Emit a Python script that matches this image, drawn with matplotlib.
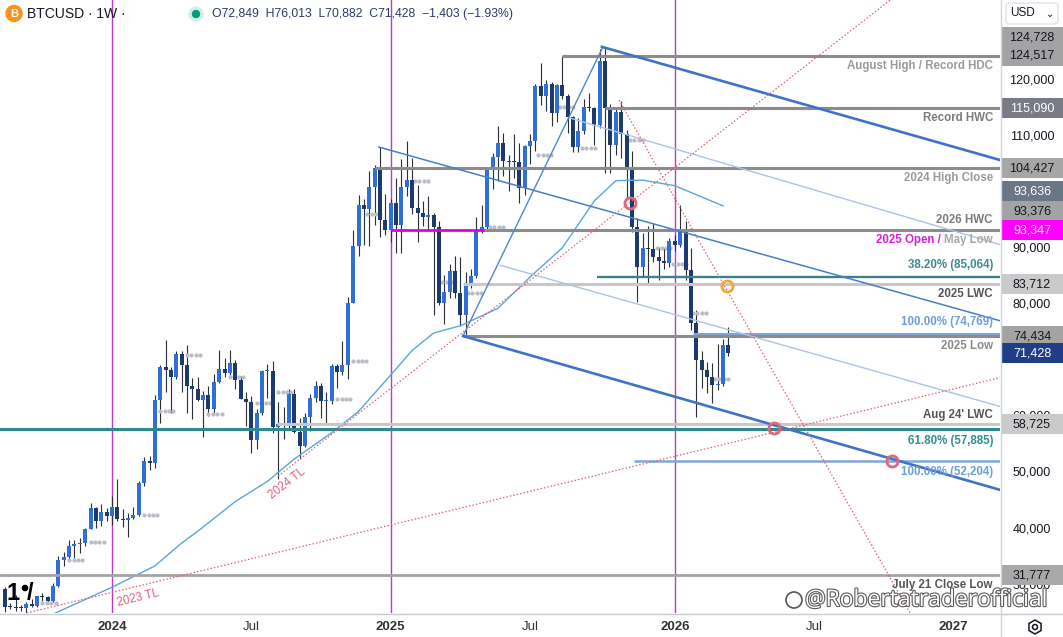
import matplotlib
matplotlib.use("Agg")
import matplotlib.pyplot as plt
import matplotlib.patheffects as pe
from matplotlib.patches import Rectangle, Circle, RegularPolygon, FancyBboxPatch

plt.rcParams['font.family'] = ['Liberation Sans', 'DejaVu Sans']

W, H = 1063, 637

# weekly candles, bar 0 = week of 1 Jan 2024
bar_index = list(range(-20, 116))
opens = [29300, 26100, 26000, 25840, 25830, 26530, 26250, 27970, 27920, 27150,
         29900, 34500, 35000, 37050, 37370, 37450, 39970, 43780, 41370, 43000,
         42280, 43950, 41700, 41580, 42030, 42580, 48300, 52140, 51730, 63110,
         68950, 68390, 67210, 71300, 69360, 65600, 64990, 63120, 63890, 61480,
         66270, 68520, 67770, 69650, 66650, 63220, 62680, 55870, 60800, 68160,
         68260, 58160, 58725, 58970, 64160, 57300, 54870, 60000, 63340, 65600,
         62820, 62870, 69030, 68000, 69350, 80400, 90500, 97900, 97200, 101100,
         104427, 95100, 93347, 98150, 94300, 101100, 102400, 97300, 96400, 95800,
         96100, 94000, 80300, 82400, 86000, 82100, 78200, 83600, 85100, 93400,
         94000, 104100, 106400, 109000, 105700, 105600, 105500, 100900, 108400, 109200,
         119100, 117300, 119400, 114200, 119300, 117400, 113500, 108300, 111100, 115300,
         115200, 112200, 123500, 115090, 108600, 114500, 110500, 104600, 94000, 86700,
         90200, 90000, 88600, 87800, 87500, 91500, 90700, 93376, 86250, 76700,
         70200, 68400, 67200, 65700, 65900, 72849]
highs = [29680, 26800, 28140, 26400, 27000, 27450, 28000, 28580, 27950, 30400,
         35200, 35980, 37970, 37980, 38420, 40250, 44700, 44000, 44400, 43800,
         45900, 49000, 43580, 42800, 43850, 48500, 52820, 52980, 64000, 69200,
         73800, 68900, 71770, 71700, 72800, 66900, 67200, 64730, 65500, 67700,
         71950, 70600, 71990, 70200, 67300, 64500, 63800, 61400, 68380, 69400,
         70000, 62750, 61800, 65000, 64960, 59800, 60650, 64130, 66500, 66000,
         64470, 69450, 69500, 73600, 81500, 93450, 99600, 98900, 104000, 105000,
         108300, 99900, 99000, 102700, 106000, 109300, 106300, 101500, 98600, 99500,
         96500, 95000, 85300, 87400, 88800, 88500, 85900, 86400, 95700, 97900,
         104300, 107100, 111900, 110700, 106800, 110500, 108900, 108500, 110500, 119500,
         123200, 120200, 119800, 119400, 124517, 117600, 113800, 113400, 116700, 117900,
         115400, 125700, 126000, 115900, 115400, 116400, 111200, 107500, 95500, 92900,
         94100, 94600, 90400, 90100, 91900, 92500, 97900, 95000, 90100, 79100,
         71700, 69900, 69700, 73000, 74000, 76013]
lows = [25200, 25800, 25350, 25400, 24900, 26000, 26000, 27200, 26550, 26950,
        29700, 33400, 34500, 34800, 35650, 36900, 39970, 40200, 40550, 41450,
        40750, 41500, 40300, 38550, 41830, 42260, 47700, 50540, 50900, 59000,
        64550, 60800, 66800, 64500, 60660, 59600, 62800, 56500, 60180, 60640,
        66080, 67100, 67500, 65050, 63200, 58400, 53500, 54260, 60400, 63430,
        57200, 49000, 56100, 57800, 57200, 52550, 54580, 57500, 62700, 59830,
        58900, 62400, 65100, 67450, 66800, 80300, 88800, 90800, 90500, 94200,
        92200, 92500, 91300, 89300, 89300, 99500, 96200, 91200, 94100, 93300,
        78200, 80000, 76600, 81200, 81300, 76200, 74434, 83100, 84800, 92800,
        93400, 100800, 102100, 103100, 100400, 102700, 98200, 99600, 105200, 107500,
        115800, 114700, 112000, 112600, 116800, 110700, 107300, 107300, 110600, 114700,
        108600, 111600, 103600, 103600, 106700, 106300, 98900, 93000, 80500, 85000,
        83900, 87600, 84500, 86500, 86800, 89600, 90300, 84500, 75500, 60060,
        65100, 64200, 62500, 64800, 65600, 70882]
closes = [26100, 26000, 25840, 25830, 26530, 26250, 27970, 27920, 27150, 29900,
          34500, 35000, 37050, 37370, 37450, 39970, 43780, 41370, 43000, 42280,
          43950, 41700, 41580, 42030, 42580, 48300, 52140, 51730, 63110, 68950,
          68390, 67210, 71300, 69360, 65600, 64990, 63120, 63890, 61480, 66270,
          68520, 67770, 69650, 66650, 63220, 62680, 55870, 60800, 68160, 68260,
          58160, 58725, 58970, 64160, 57300, 54870, 60000, 63340, 65600, 62820,
          62870, 69030, 68000, 69350, 80400, 90500, 97900, 97200, 101100, 104427,
          95100, 93347, 98150, 94300, 101100, 102400, 97300, 96400, 95800, 96100,
          94000, 80300, 82400, 86000, 82100, 78200, 83600, 85100, 93400, 94000,
          104100, 106400, 109000, 105700, 105600, 105500, 100900, 108400, 109200, 119100,
          117300, 119400, 114200, 119300, 117400, 113500, 108300, 111100, 115300, 115200,
          112200, 123500, 115090, 108600, 114500, 110500, 104600, 94000, 86700, 90200,
          90000, 88600, 87800, 87500, 91500, 90700, 93376, 86250, 76700, 70200,
          68400, 67200, 65700, 65900, 72849, 71428]

# moving average (bar, price)
ma_bars = [-14, -11, 0, 8, 13, 16, 23, 29, 34, 41, 46, 52, 56, 60, 65, 72, 78, 84, 90, 94, 99, 105, 110, 114]
ma_vals = [22600, 24800, 29600, 33400, 37500, 39600, 44900, 48500, 52500, 57200, 61000, 67500, 71900,
           75000, 76300, 79400, 85000, 90200, 98600, 102200, 102300, 101300, 99300, 97700]

# horizontal levels
level_prices = [124517, 115090, 104427, 93376, 93347, 85064, 83712, 74769, 74434, 58725, 57885, 52204, 31777]
level_from = [84, 92, 49, 69.6, 52, 90.5, 65.5, 108.4, 65.5, 30.8, -22, 97.4, -22]
level_to = [170, 170, 170, 170, 69.6, 170, 170, 170, 170, 170, 170, 170, 170]
level_colors = ['#8c8c8c', '#8c8c8c', '#8c8c8c', '#8c8c8c', '#e000e0', '#3f7f87', '#c8c8c8',
                '#7ea6dc', '#8c8c8c', '#c8c8c8', '#2f8a8e', '#7ea6dc', '#a4a4a4']
level_widths = [2.2, 2.2, 2.2, 2.2, 2.0, 1.7, 2.2, 2.2, 2.2, 2.2, 2.2, 1.8, 2.0]

level_texts = ['August High / Record HDC', 'Record HWC', '2024 High Close', '2026 HWC',
               'May Low', '38.20% (85,064)', '2025 LWC', '100.00% (74,769)', '2025 Low',
               "Aug 24' LWC", '61.80% (57,885)', '100.00% (52,204)', 'July 21 Close Low']
level_text_prices = [124517, 115090, 104427, 93376, 93347, 85064, 83712, 74769, 74434, 58725, 57885, 52204, 31777]
level_text_dy = [-10, -9.5, -10, 10, -10, 11.5, -10, 12, -10, 9, -12, -11.5, -10]
level_text_colors = ['#9a9a9a', '#7b7b7b', '#9a9a9a', '#7b7b7b', '#a8a8a8', '#3f8a8f', '#555555',
                     '#6e9ddb', '#8a8a8a', '#555555', '#2f8f94', '#6e9ddb', '#555555']

# trend lines: (bar0, price0, bar1, price1)
channel_lines = [(91.4, 126100, 166, 105800), (65.5, 74460, 166, 46900)]
mid_line = (49.8, 108200, 166, 77100)
light_lines = [(85.4, 113400, 166, 90700), (72.4, 87100, 166, 61800)]
handle_line = (65.5, 74460, 91.6, 126100)
tl_2023 = (-15.9, 25000, 166, 67100)
tl_2024 = (31.0, 49460, 145.2, 134460)
tl_desc = (94.6, 116600, 148.9, 25000)

circle_red_bars = [96.6, 123.5, 145.5]
circle_red_prices = [98200, 58000, 52150]
circle_orange_bars = [114.7]
circle_orange_prices = [83400]

# grey pivot dots (start bar, price)
dot_bars = [-13, -8, -4, 6, 9, 14, 18, 22, 27, 31, 42, 45, 47.6, 56.5, 61.6, 66.4, 70.5,
            79.5, 83.6, 87.7, 96.6, 101.7, 104.7, 108.4, 112.5]
dot_prices = [26800, 34460, 37730, 42500, 61070, 71070, 60480, 67200, 62500, 64520, 63200, 70000,
              96250, 102200, 84100, 82200, 94000, 106840, 115400, 107950, 109460, 90180, 87300,
              78570, 66790]

year_bars = [0, 52, 105]
tick_bars = [0, 26, 52, 78, 105, 131, 157]
tick_labels = ['2024', 'Jul', '2025', 'Jul', '2026', 'Jul', '2027']

# scale labels not hidden under a price tag
axis_ticks = [30000, 40000, 50000, 60000, 80000, 90000, 110000, 120000]
price_tags = [124728, 124517, 115090, 104427, 93636, 93376, 93347, 83712, 74434, 71428, 58725, 31777]
price_tag_shift = [-17.5, 0, 0, 0, -37.5, -19, 0, 0, 0, 0, 0, 0]
price_tag_bg = ['#a3a3a3', '#a3a3a3', '#787b86', '#a6a6a6', '#6a7586', '#a3a3a3', '#ff00ff',
                '#cacaca', '#a3a3a3', '#1f3e87', '#cacaca', '#a8a8a8']
price_tag_fg = ['#131722', '#131722', 'white', '#131722', 'white', '#131722', 'white',
                '#131722', '#131722', 'white', '#131722', '#131722']

PX_PER_BAR = 5.36
PX_PER_USD = 0.0056

fig = plt.figure(figsize=(W / 100, H / 100), dpi=100)
fig.patch.set_facecolor('white')
ax = fig.add_axes([0, 24 / H, 1000 / W, 613 / H])
ax.set_xlim(-112 / PX_PER_BAR, 888 / PX_PER_BAR)
ax.set_ylim(25000, 25000 + 613 / PX_PER_USD)
ax.set_axis_off()

# candles
up_col, dn_col = '#3070d6', '#1d3a6c'
body_bottom = [min(o, c) for o, c in zip(opens, closes)]
body_height = [max(abs(c - o), 200) for o, c in zip(opens, closes)]
body_cols = [up_col if c >= o else dn_col for o, c in zip(opens, closes)]
ax.vlines(bar_index, lows, highs, color='#2a2e39', lw=0.8, zorder=2)
ax.bar(bar_index, body_height, bottom=body_bottom, width=0.74, color=body_cols, zorder=2.2)

# pivot dots
for b, p in zip(dot_bars, dot_prices):
    ax.plot([b + 0.82 * k for k in range(4)], [p] * 4, ls='none', marker='o', ms=2.0,
            color='#babdc5', zorder=2.1)

# year lines
for b in year_bars:
    ax.axvline(b, color='#b83cc8', lw=1.0, zorder=1.5)

# moving average
ax.plot(ma_bars, ma_vals, color='#5aa6dc', lw=1.0, zorder=2.5)

# horizontal levels
for p, a, b, c, w in zip(level_prices, level_from, level_to, level_colors, level_widths):
    ax.hlines(p, a, b, color=c, lw=w, zorder=3)

# trend lines
for l in channel_lines:
    ax.plot([l[0], l[2]], [l[1], l[3]], color='#3f72c8', lw=1.9, zorder=3.2)
ax.plot([mid_line[0], mid_line[2]], [mid_line[1], mid_line[3]], color='#4a7fc5', lw=1.1, zorder=3.1)
for l in light_lines:
    ax.plot([l[0], l[2]], [l[1], l[3]], color='#aac5e8', lw=1.0, zorder=3.1)
ax.plot([handle_line[0], handle_line[2]], [handle_line[1], handle_line[3]], color='#4f86c9', lw=1.0, zorder=3.1)
for l in (tl_2023, tl_2024, tl_desc):
    ax.plot([l[0], l[2]], [l[1], l[3]], color='#e0607a', lw=0.9, ls=(0, (1.2, 1.6)), zorder=3.3)

ax.plot(circle_red_bars, circle_red_prices, ls='none', marker='o', ms=8, mfc='none',
        mec='#e0667a', mew=2, zorder=4)
ax.plot(circle_orange_bars, circle_orange_prices, ls='none', marker='o', ms=8, mfc='none',
        mec='#f3a43a', mew=2, zorder=4)

ax.text(32.6, 48200, '2024 TL', color='#e0607a', fontsize=8.5, rotation=37.7,
        ha='center', va='center', zorder=4)
ax.text(4.9, 27700, '2023 TL', color='#e0607a', fontsize=8.5, rotation=13.6,
        ha='center', va='center', zorder=4)

# level labels
label_x = 881 / PX_PER_BAR
for t, p, dy, c in zip(level_texts, level_text_prices, level_text_dy, level_text_colors):
    ax.annotate(t, xy=(label_x, p), xytext=(0, dy * 0.72), textcoords='offset points',
                ha='right', va='center', color=c, fontsize=8.3, fontweight='bold', zorder=5)
ax.annotate('2025 Open /', xy=(label_x, 93347), xytext=(-52 * 0.72, -10 * 0.72),
            textcoords='offset points', ha='right', va='center', color='#d91ed9',
            fontsize=8.3, fontweight='bold', zorder=5)

# x axis labels
for b, t in zip(tick_bars, tick_labels):
    ax.text(b, -14 / 613, t, transform=ax.get_xaxis_transform(), ha='center', va='center',
            fontsize=9.5, color='#333333', fontweight='bold' if t != 'Jul' else 'normal',
            clip_on=False)

# price scale panel
axr = fig.add_axes([1001 / W, 24 / H, 62 / W, 613 / H])
axr.set_ylim(ax.get_ylim())
axr.set_xlim(0, 1)
axr.set_axis_off()
for v in axis_ticks:
    axr.text(0.5, v, f'{v:,}', ha='center', va='center', fontsize=9, color='#131722')
tag_h = 20 / PX_PER_USD
for v, s, bg, fg in zip(price_tags, price_tag_shift, price_tag_bg, price_tag_fg):
    yc = v - s / PX_PER_USD
    axr.add_patch(Rectangle((0.02, yc - tag_h / 2), 1.0, tag_h, facecolor=bg,
                            edgecolor='none', clip_on=False, zorder=5))
    axr.text(0.5, yc, f'{v:,}', ha='center', va='center', fontsize=9, color=fg, zorder=6,
             clip_on=False)

# pixel overlay for frame, header and watermark
ov = fig.add_axes([0, 0, 1, 1])
ov.set_xlim(0, W)
ov.set_ylim(H, 0)
ov.set_axis_off()
ov.patch.set_alpha(0)
ov.plot([1000.5, 1000.5], [0, H], color='#d1d4dc', lw=1)
ov.plot([0, W], [613.5, 613.5], color='#c8cbd2', lw=1)
ov.add_patch(FancyBboxPatch((1006, 3), 52, 21, boxstyle='round,pad=0,rounding_size=3',
                            facecolor='white', edgecolor='#e0e3eb', lw=1))
ov.text(1010, 13.5, 'USD', ha='left', va='center', fontsize=8.5, color='#131722')
ov.text(1050, 14, '\u2304', ha='center', va='center', fontsize=7, color='#131722',
        family='DejaVu Sans')

ov.add_patch(Circle((14, 13.5), 8, color='#f7931a'))
ov.text(14, 14, 'B', ha='center', va='center', fontsize=8, color='white', fontweight='bold')
ov.text(27, 14, 'BTCUSD \u00b7 1W \u00b7', ha='left', va='center', fontsize=10, color='#131722')
ov.add_patch(Circle((196, 14), 7, color='#d3eee8'))
ov.add_patch(Circle((196, 14), 3.5, color='#089981'))
ov.text(212, 14, 'O72,849  H76,013  L70,882  C71,428  \u22121,403 (\u22121.93%)', ha='left',
        va='center', fontsize=8.8, color='#2b3c66')

# tradingview mark
ov.text(7, 593, '1', ha='left', va='center', fontsize=17, color='black', fontweight='bold')
ov.add_patch(Circle((25, 588), 2.6, color='black'))
ov.text(27, 594, '/', ha='left', va='center', fontsize=17, color='black', fontweight='bold')

# watermark
ov.add_patch(Circle((794, 600), 8, facecolor='white', edgecolor='#555555', lw=1.2, zorder=9))
wm = ov.text(805, 600, '@Robertatraderofficial', ha='left', va='center', fontsize=16.5,
             color='white', family=['Open Sans', 'DejaVu Sans'], zorder=10)
wm.set_path_effects([pe.withStroke(linewidth=1.6, foreground='#5a5a5a')])

# settings icon
ov.add_patch(RegularPolygon((1035, 627), 6, radius=7, facecolor='none', edgecolor='#131722', lw=1.1))
ov.add_patch(Circle((1035, 627), 2.5, facecolor='none', edgecolor='#131722', lw=1.1))

fig.savefig('out.png', dpi=100)
